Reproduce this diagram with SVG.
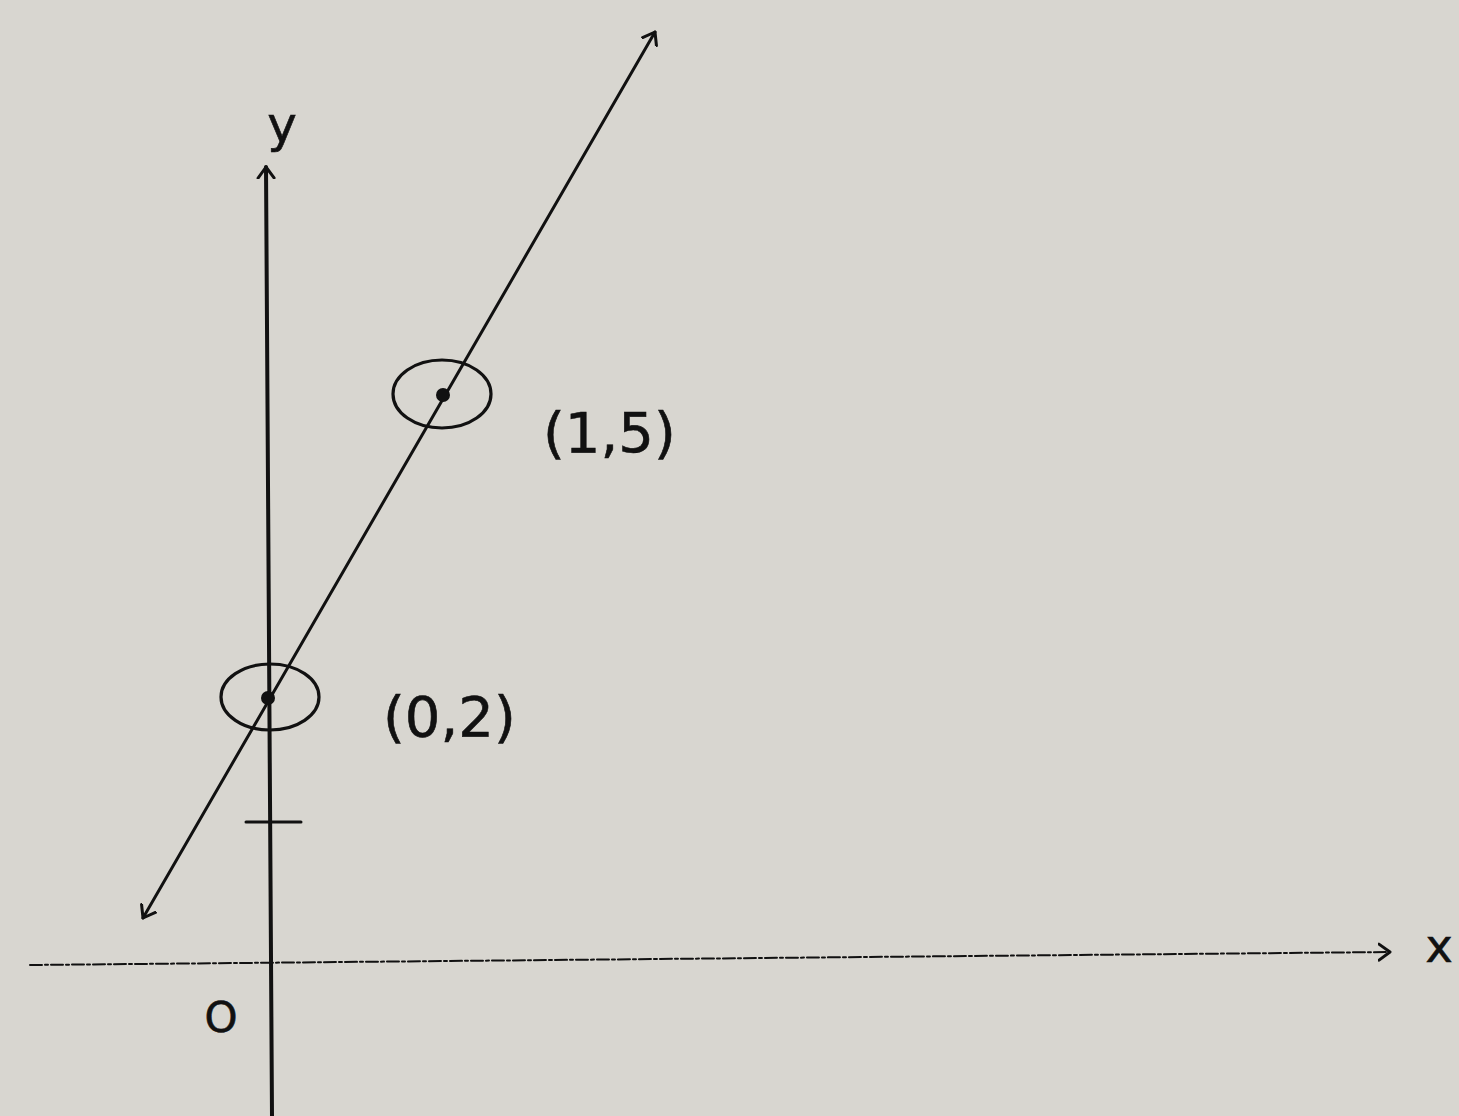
<svg xmlns="http://www.w3.org/2000/svg" width="1459" height="1116" viewBox="0 0 1459 1116">
<style>
.lbl{font-family:"DejaVu Sans","Liberation Sans",sans-serif;fill:#111;stroke:#111;stroke-width:0.6}
.ax{stroke:#111;fill:none;stroke-linecap:round}
.pt{fill:none;stroke:#111;stroke-width:3.2}
</style>
<defs>
<marker id="chev" viewBox="-12 -10 14 20" markerWidth="14" markerHeight="20" refX="0" refY="0" orient="auto-start-reverse" markerUnits="userSpaceOnUse">
<path d="M-11,-8 L0,0 L-11,8" fill="none" stroke="#111" stroke-width="3" stroke-linecap="round" stroke-linejoin="round"/>
</marker>
</defs>
<rect width="1459" height="1116" fill="#d8d6d0"/>
<g id="connectors">
<line id="x-axis" class="ax" x1="30" y1="965" x2="1390" y2="952" stroke-width="2" stroke-dasharray="12 3 3 3" marker-end="url(#chev)"/>
<line id="y-axis" class="ax" x1="272" y1="1116" x2="266" y2="167" stroke-width="4" marker-end="url(#chev)"/>
<line id="graph-line" class="ax" x1="143" y1="918" x2="655" y2="32" stroke-width="3" marker-start="url(#chev)" marker-end="url(#chev)"/>
<line id="tick" class="ax" x1="246" y1="822" x2="301" y2="822" stroke-width="3"/>
</g>
<g id="point-0-2">
<ellipse class="pt" cx="270" cy="697" rx="49" ry="33"/>
<circle cx="268" cy="698" r="7" fill="#111"/>
<text class="lbl" x="383" y="736" font-size="56">(0,2)</text>
</g>
<g id="point-1-5">
<ellipse class="pt" cx="442" cy="394" rx="49" ry="34"/>
<circle cx="443" cy="395" r="7" fill="#111"/>
<text class="lbl" x="543" y="452" font-size="56">(1,5)</text>
</g>
<g id="labels">
<text class="lbl" x="282" y="142" font-size="50" text-anchor="middle">y</text>
<text class="lbl" x="1439" y="962" font-size="46" text-anchor="middle">x</text>
<text class="lbl" x="221" y="1032" font-size="42" text-anchor="middle">O</text>
</g>
</svg>
